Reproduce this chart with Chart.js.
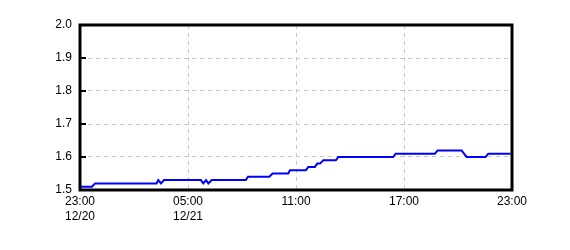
<!DOCTYPE html>
<html>
<head>
<meta charset="utf-8">
<script src="https://cdn.jsdelivr.net/npm/chart.js@4"></script>
<style>
  html, body { margin: 0; padding: 0; background: #fff; }
  #wrap { width: 570px; height: 250px; }
</style>
</head>
<body>
<div id="wrap"><canvas id="chart1"></canvas></div>
<script>
// minutes after 23:00 on 12/20
var times = [0, 40, 50, 255, 261, 270, 280, 403, 411, 420, 428, 439, 553, 560, 631, 642,
    694, 700, 753, 761, 783, 791, 800, 811, 853, 861, 1044, 1052, 1183, 1192, 1272, 1280,
    1289, 1352, 1361, 1435]
var values = [1.51, 1.51, 1.52, 1.52, 1.53, 1.52, 1.53, 1.53, 1.52, 1.53, 1.52, 1.53, 1.53, 1.54, 1.54, 1.55,
    1.55, 1.56, 1.56, 1.57, 1.57, 1.58, 1.58, 1.59, 1.59, 1.60, 1.60, 1.61, 1.61, 1.62, 1.62, 1.61,
    1.60, 1.60, 1.61, 1.61]

var tickTimes = ['23:00', '05:00', '11:00', '17:00', '23:00']
var tickDates = ['12/20', '12/21', '', '', '']
var yTicks = [1.5, 1.6, 1.7, 1.8, 1.9, 2.0]

var points = times.map(function (t, i) { return {x: t, y: values[i]} })

var font = {family: "'Liberation Sans', Arial, sans-serif", size: 12, lineHeight: 1.25}

// black frame round the plot plus short inner ticks on the left
var framePlugin = {
    id: 'frame',
    afterDraw: function (chart) {
        var ctx = chart.ctx
        var a = chart.chartArea
        var y = chart.scales.y
        ctx.save()
        ctx.strokeStyle = '#000'
        ctx.lineWidth = 2
        yTicks.slice(1, -1).forEach(function (v) {
            var py = Math.round(y.getPixelForValue(v))
            ctx.beginPath()
            ctx.moveTo(a.left, py)
            ctx.lineTo(a.left + 6, py)
            ctx.stroke()
        })
        ctx.lineWidth = 3
        ctx.strokeRect(a.left, a.top, a.right - a.left, a.bottom - a.top)
        ctx.restore()
    }
}

var config1 = {
    type: 'line',
    data: {
        datasets: [{
            data: points,
            borderColor: '#0000ff',
            borderWidth: 2,
            pointRadius: 0,
            tension: 0,
            fill: false
        }]
    },
    options: {
        responsive: true,
        maintainAspectRatio: false,
        animation: false,
        layout: {padding: {left: 0, top: 25, right: 58, bottom: 0}},
        plugins: {legend: {display: false}, tooltip: {enabled: false}},
        scales: {
            x: {
                type: 'linear',
                min: 0,
                max: 1440,
                afterFit: function (s) { s.height = 60 },
                afterBuildTicks: function (s) {
                    s.ticks = tickTimes.map(function (t, i) { return {value: i * 360} })
                },
                ticks: {
                    color: '#000',
                    font: font,
                    padding: 4,
                    maxRotation: 0,
                    autoSkip: false,
                    callback: function (v, i) {
                        return tickDates[i] ? [tickTimes[i], tickDates[i]] : tickTimes[i]
                    }
                },
                grid: {color: '#c8c8c8', lineWidth: 1, drawTicks: false},
                border: {display: false, dash: [4, 4]}
            },
            y: {
                min: 1.5,
                max: 2.0,
                afterFit: function (s) { s.width = 80 },
                afterBuildTicks: function (s) {
                    s.ticks = yTicks.map(function (v) { return {value: v} })
                },
                ticks: {
                    color: '#000',
                    font: font,
                    padding: 8,
                    callback: function (v) { return v.toFixed(1) }
                },
                grid: {color: '#c8c8c8', lineWidth: 1, drawTicks: false},
                border: {display: false, dash: [4, 4]}
            }
        }
    },
    plugins: [framePlugin]
}

var chart1 = new Chart(document.getElementById('chart1'), config1)
</script>
</body>
</html>
